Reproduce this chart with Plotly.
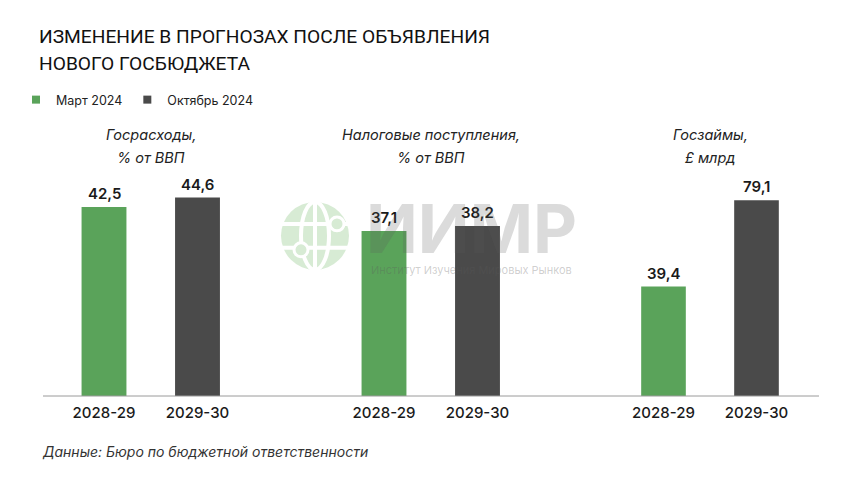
import plotly.graph_objects as go

# ---------------- data ----------------
panel_titles = [["Госрасходы,", "% от ВВП"],
                ["Налоговые поступления,", "% от ВВП"],
                ["Госзаймы,", "£ млрд"]]
periods = ["2028-29", "2029-30"]
series_names = ["Март 2024", "Октябрь 2024"]
march_2024 = [42.5, 37.1, 39.4]
october_2024 = [44.6, 38.2, 79.1]
source_text = "Данные: Бюро по бюджетной ответственности"
title_lines = ["ИЗМЕНЕНИЕ В ПРОГНОЗАХ ПОСЛЕ ОБЪЯВЛЕНИЯ", "НОВОГО ГОСБЮДЖЕТА"]

# ---------------- style ----------------
W, H = 860, 484
TOP, BOT = 170, 396.5
GREEN = "#5aa35a"
DARK = "#4a4a4a"
FONT = "Inter"
series_colors = [GREEN, DARK]
x_domains = [(57.25, 244.25), (337.25, 524.25), (617, 803)]
y_ranges = [(0, 50.8), (0, 50.8), (-10.9, 93.0)]


def px(x):
    return x / W


def py(y):
    return (BOT - y) / (BOT - TOP)


def fmt(v):
    return f"{v:.1f}".replace(".", ",")


fig = go.Figure()
annotations = []

for i in range(3):
    ax = "" if i == 0 else str(i + 1)
    base = y_ranges[i][0]
    vals = [march_2024[i], october_2024[i]]
    for s in range(2):
        fig.add_trace(go.Bar(
            x=[periods[s]], y=[vals[s] - base], base=base,
            marker=dict(color=series_colors[s], line=dict(width=0)),
            width=0.48, showlegend=False, hoverinfo="skip",
            xaxis="x" + ax, yaxis="y" + ax,
        ))
        annotations.append(dict(
            x=periods[s], y=vals[s], xref="x" + ax, yref="y" + ax,
            text=fmt(vals[s]), showarrow=False, yanchor="bottom", yshift=2,
            font=dict(family=FONT, size=15, color="#1a1a1a", weight=600),
        ))
    cx = px((x_domains[i][0] + x_domains[i][1]) / 2)
    for k, line in enumerate(panel_titles[i]):
        annotations.append(dict(
            x=cx, y=py(134 + 23 * k), xref="paper", yref="paper",
            text=f"<i>{line}</i>", showarrow=False, xanchor="center", yanchor="middle",
            font=dict(family=FONT, size=14.5, color="#222222"),
        ))
    fig.layout["xaxis" + ax] = dict(
        domain=[px(x_domains[i][0]), px(x_domains[i][1])],
        type="category", categoryorder="array", categoryarray=periods,
        range=[-0.5, 1.5], showgrid=False, zeroline=False, showline=False,
        ticks="", ticklabelstandoff=6,
        tickfont=dict(family=FONT, size=15, color="#1a1a1a", weight=500),
        anchor="y" + ax, fixedrange=True,
    )
    fig.layout["yaxis" + ax] = dict(
        domain=[0, 1], range=list(y_ranges[i]), visible=False,
        anchor="x" + ax, fixedrange=True,
    )

# legend entries
for s in range(2):
    fig.add_trace(go.Scatter(
        x=[None], y=[None], mode="markers", name=series_names[s],
        marker=dict(symbol="square", size=8, color=series_colors[s]),
    ))

# title lines
for k, line in enumerate(title_lines):
    annotations.append(dict(
        x=px(37), y=py(36 + 27 * k), xref="paper", yref="paper", text=line,
        showarrow=False, xanchor="left", yanchor="middle",
        font=dict(family="Roboto", size=19.2, color="#111111"),
    ))

# source
annotations.append(dict(
    x=px(40), y=py(452), xref="paper", yref="paper", text=f"<i>{source_text}</i>",
    showarrow=False, xanchor="left", yanchor="middle",
    font=dict(family=FONT, size=14, color="#333333"),
))

# watermark
annotations.append(dict(
    x=px(471), y=py(228), xref="paper", yref="paper", text="<b>ИИМР</b>",
    showarrow=False, xanchor="center", yanchor="middle",
    font=dict(family=FONT, size=68, color="rgba(90,90,90,0.22)"),
))
annotations.append(dict(
    x=px(471), y=py(270), xref="paper", yref="paper", text="Институт Изучения Мировых Рынков",
    showarrow=False, xanchor="center", yanchor="middle",
    font=dict(family=FONT, size=11, color="rgba(90,90,90,0.3)"),
))

shapes = []
# globe watermark
gcx, gcy, gr = 315, 236, 34
shapes.append(dict(type="circle", xref="paper", yref="paper",
                   x0=px(gcx - gr), x1=px(gcx + gr), y0=py(gcy + gr), y1=py(gcy - gr),
                   fillcolor="#d7ebd4", line=dict(width=0), layer="below"))
shapes.append(dict(type="circle", xref="paper", yref="paper",
                   x0=px(gcx - 14), x1=px(gcx + 14), y0=py(gcy + gr), y1=py(gcy - gr),
                   fillcolor="rgba(0,0,0,0)", line=dict(width=4, color="white"), layer="below"))
for dy in (-12, 12):
    shapes.append(dict(type="line", xref="paper", yref="paper",
                       x0=px(gcx - gr), x1=px(gcx + gr), y0=py(gcy + dy), y1=py(gcy + dy),
                       line=dict(width=4, color="white"), layer="below"))
shapes.append(dict(type="line", xref="paper", yref="paper",
                   x0=px(gcx), x1=px(gcx), y0=py(gcy - gr), y1=py(gcy + gr),
                   line=dict(width=4, color="white"), layer="below"))
for nx, ny in ((gcx - 14, gcy + 14), (gcx + 22, gcy - 12)):
    shapes.append(dict(type="circle", xref="paper", yref="paper",
                       x0=px(nx - 7), x1=px(nx + 7), y0=py(ny + 7), y1=py(ny - 7),
                       fillcolor="#d7ebd4", line=dict(width=3, color="white"), layer="below"))

# baseline
shapes.append(dict(type="line", xref="paper", yref="paper",
                   x0=px(43), x1=px(819), y0=0, y1=0,
                   line=dict(width=1, color="#9a9a9a")))

fig.update_layout(
    width=W, height=H,
    margin=dict(l=0, r=0, t=TOP, b=H - BOT, pad=0),
    paper_bgcolor="white", plot_bgcolor="white",
    barmode="overlay",
    showlegend=True,
    legend=dict(orientation="h", x=px(16), xanchor="left", y=1 - 100 / H, yref="container",
                yanchor="middle", font=dict(family=FONT, size=12.5, color="#222222"),
                itemclick=False, itemdoubleclick=False, bgcolor="rgba(0,0,0,0)"),
    annotations=annotations,
    shapes=shapes,
)

fig.write_html("out.html", config={"displayModeBar": False},
               post_script="document.body.style.margin='0px';")
